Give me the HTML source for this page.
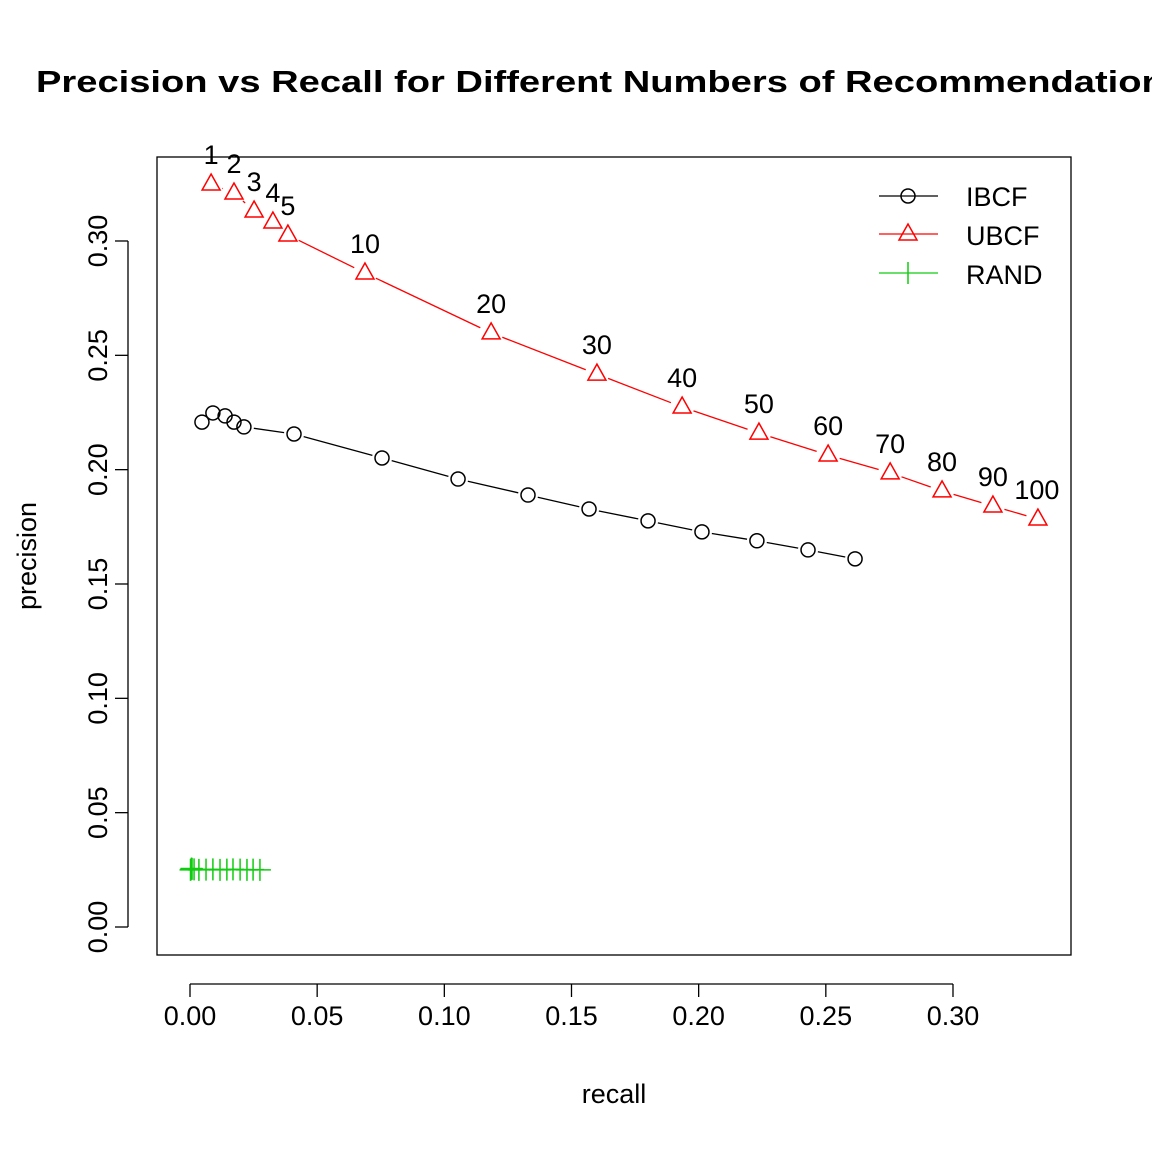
<!DOCTYPE html>
<html><head><meta charset="utf-8"><style>
html,body{margin:0;padding:0;background:#fff;overflow:hidden}
svg{display:block;font-family:"Liberation Sans",Arial,sans-serif}
</style></head><body>
<svg id="chart" width="1152" height="1152" viewBox="0 0 1152 1152">
<rect width="1152" height="1152" fill="#fff"/>
<text x="36" y="92" font-size="31" font-weight="bold" textLength="1150" lengthAdjust="spacingAndGlyphs">Precision vs Recall for Different Numbers of Recommendations</text>
<rect x="157" y="157" width="914" height="798" fill="none" stroke="#000" stroke-width="1.3"/>
<g id="axes"></g>
<g id="series"></g>
<text x="614" y="1103" font-size="27" text-anchor="middle">recall</text>
<text transform="translate(36,556) rotate(-90)" font-size="27" text-anchor="middle">precision</text>
<g>
<g><line x1="879" y1="196" x2="938" y2="196" stroke="#000" stroke-width="1.3"/><circle cx="908" cy="196" r="7" fill="none" stroke="#000" stroke-width="1.5"/><text x="966" y="206" font-size="27">IBCF</text></g>
<g><line x1="879" y1="234" x2="938" y2="234" stroke="#f00" stroke-width="1.3"/><polygon points="908,224 899,240 917,240" fill="none" stroke="#f00" stroke-width="1.5"/><text x="966" y="245" font-size="27">UBCF</text></g>
<g><line x1="879" y1="273" x2="938" y2="273" stroke="#1c1" stroke-width="1.3"/><line x1="908" y1="262" x2="908" y2="284" stroke="#1c1" stroke-width="1.5"/><text x="966" y="284" font-size="27">RAND</text></g>
</g>
</svg>
<script>
const xTicks=[0,0.05,0.10,0.15,0.20,0.25,0.30];
const xTickLabels=["0.00","0.05","0.10","0.15","0.20","0.25","0.30"];
const yTicks=[0,0.05,0.10,0.15,0.20,0.25,0.30];
const yTickLabels=["0.00","0.05","0.10","0.15","0.20","0.25","0.30"];
const nLabels=["1","2","3","4","5","10","20","30","40","50","60","70","80","90","100"];
const ibcfRecall=[0.0047,0.0090,0.0138,0.0173,0.0212,0.0409,0.0755,0.1054,0.1329,0.1569,0.1801,0.2013,0.2229,0.2430,0.2615];
const ibcfPrecision=[0.2208,0.2248,0.2235,0.2208,0.2187,0.2156,0.2051,0.1959,0.1889,0.1828,0.1776,0.1728,0.1689,0.1649,0.1610];
const ubcfRecall=[0.0083,0.0173,0.0252,0.0326,0.0385,0.0688,0.1184,0.1600,0.1935,0.2237,0.2509,0.2753,0.2957,0.3157,0.3334];
const ubcfPrecision=[0.3249,0.3210,0.3131,0.3083,0.3026,0.2860,0.2598,0.2418,0.2274,0.2160,0.2064,0.1986,0.1907,0.1841,0.1784];
const randRecall=[0.0002,0.0004,0.0006,0.0008,0.0016,0.0035,0.0063,0.0090,0.0118,0.0145,0.0169,0.0197,0.0224,0.0248,0.0275];
const randPrecision=[0.0250,0.0252,0.0256,0.0254,0.0252,0.0250,0.0251,0.0252,0.0250,0.0251,0.0252,0.0251,0.0250,0.0251,0.0250];
const NS="http://www.w3.org/2000/svg";
const X=v=>190+v*2543.3, Y=v=>927-v*2286.7;
function mk(tag,attrs,parent){const e=document.createElementNS(NS,tag);for(const k in attrs)e.setAttribute(k,attrs[k]);parent.appendChild(e);return e;}
const axes=document.getElementById('axes'), ser=document.getElementById('series');
mk('line',{x1:X(0),y1:984,x2:X(0.30),y2:984,stroke:'#000','stroke-width':1.3},axes);
xTicks.forEach((t,i)=>{
 const l=mk('line',{x1:X(t),y1:984,x2:X(t),y2:997,stroke:'#000','stroke-width':1.3},axes);
 
 
 const tx=mk('text',{x:X(t),y:1025,'font-size':27,'text-anchor':'middle'},axes);tx.textContent=xTickLabels[i];
 
 
});
mk('line',{x1:128,y1:Y(0),x2:128,y2:Y(0.30),stroke:'#000','stroke-width':1.3},axes);
yTicks.forEach((t,i)=>{
 const l=mk('line',{x1:115,y1:Y(t),x2:128,y2:Y(t),stroke:'#000','stroke-width':1.3},axes);
 
 
 const tx=mk('text',{x:0,y:0,'font-size':27,'text-anchor':'middle',transform:`translate(107,${Y(t)}) rotate(-90)`},axes);tx.textContent=yTickLabels[i];
 
 
});
function drawSeries(rx,py,color,shape,name,gap){
 const g=mk('g',{},ser);
 
 
 for(let i=0;i<rx.length-1;i++){
  const x1=X(rx[i]),y1=Y(py[i]),x2=X(rx[i+1]),y2=Y(py[i+1]);
  const d=Math.hypot(x2-x1,y2-y1);if(d<=2*gap)continue;
  const ux=(x2-x1)/d,uy=(y2-y1)/d;
  mk('line',{x1:x1+ux*gap,y1:y1+uy*gap,x2:x2-ux*gap,y2:y2-uy*gap,stroke:color,'stroke-width':1.3},g);
 }
 rx.forEach((r,i)=>{
  const x=X(r),y=Y(py[i]);let m;
  if(shape==='circle')m=mk('circle',{cx:x,cy:y,r:7,fill:'none',stroke:color,'stroke-width':1.5},g);
  else if(shape==='tri')m=mk('polygon',{points:`${x},${y-10} ${x-9},${y+6} ${x+9},${y+6}`,fill:'none',stroke:color,'stroke-width':1.5},g);
  else m=mk('path',{d:`M${x-11},${y}H${x+11}M${x},${y-11}V${y+11}`,stroke:color,'stroke-width':1.5,fill:'none'},g);
  
  
 });
}
drawSeries(ibcfRecall,ibcfPrecision,'#000','circle','ibcf',10);
drawSeries(ubcfRecall,ubcfPrecision,'#f00','tri','ubcf',12);
drawSeries(randRecall,randPrecision,'#1c1','plus','rand',0);
ubcfRecall.forEach((r,i)=>{
 const t=mk('text',{x:X(r)+(i===14?-1:0),y:Y(ubcfPrecision[i])-20,'font-size':27,'text-anchor':'middle'},ser);
 t.textContent=nLabels[i];
 
 
});
</script>
</body></html>
